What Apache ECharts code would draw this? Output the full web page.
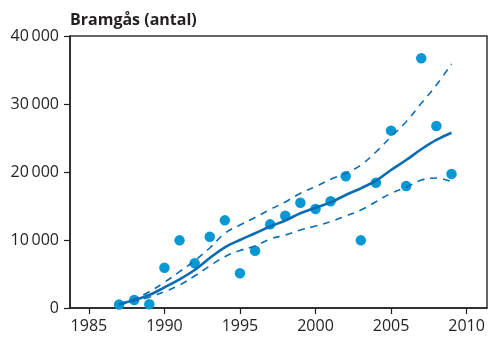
<!DOCTYPE html>
<html>
<head>
<meta charset="utf-8">
<script src="https://cdn.jsdelivr.net/npm/echarts@6/dist/echarts.min.js"></script>
<style>
html,body{margin:0;padding:0;background:#fff;}
#c{width:488px;height:338px;}
</style>
</head>
<body>
<div id="c"></div>
<script>
const years = [1987,1988,1989,1990,1991,1992,1993,1994,1995,1996,1997,1998,1999,2000,2001,2002,2003,2004,2005,2006,2007,2008,2009];
const observed = [500,1180,540,5930,9950,6570,10490,12890,5100,8430,12300,13570,15490,14560,15690,19370,9950,18430,26080,17940,36720,26760,19700];
const trend = [590,1180,1910,3040,4220,5590,7350,8930,10000,10990,11990,12870,13930,14750,15540,16620,17600,18720,20290,21760,23340,24710,25780];
const upper = [590,1320,2400,3780,5340,6960,8820,10990,12210,13310,14490,15590,16870,17840,18930,19810,21030,22940,25190,27400,30100,32790,35880];
const lower = [440,1030,1570,2400,3380,4710,6180,7540,8460,9120,10150,10740,11470,12060,12690,13530,14410,15630,16870,17750,18820,19120,18570];
const xTicks = [1985,1990,1995,2000,2005,2010];
const yTicks = [0,10000,20000,30000,40000];
const titleText = 'Bramgås (antal)';

const pairs = (vals) => years.map((y,i)=>[y, vals[i]]);
const fmtY = v => v === 0 ? '0' : String(v/1000) + '\u2009000';

const chart = echarts.init(document.getElementById('c'), null, {renderer:'canvas'});
const font = '"Open Sans", "Noto Sans", sans-serif';
const lineColor = '#0b6cb6';
chart.setOption({
  animation: false,
  backgroundColor: '#fff',
  title: {
    text: titleText, left: 65, top: 7,
    textStyle: {fontFamily: font, fontWeight: 'bold', fontSize: 16, color: '#231f20'}
  },
  grid: {left: 70, right: 1, top: 36, bottom: 30, show: true, borderColor: '#333', borderWidth: 1.5, backgroundColor: 'transparent'},
  xAxis: {
    type: 'value', min: 1983.75, max: 2011.35,
    axisLine: {show: true, onZero: false, lineStyle: {color: '#231f20', width: 1.5}},
    axisTick: {show: true, length: 6, customValues: xTicks, lineStyle: {color: '#231f20', width: 1.2}},
    axisLabel: {customValues: xTicks, margin: 10, fontFamily: font, fontSize: 16, color: '#231f20', formatter: v => String(v)},
    splitLine: {show: false}
  },
  yAxis: {
    type: 'value', min: 0, max: 40000, interval: 10000,
    axisLine: {show: true, lineStyle: {color: '#231f20', width: 1.5}},
    axisTick: {show: true, length: 6, lineStyle: {color: '#231f20', width: 1.2}},
    axisLabel: {margin: 11, fontFamily: font, fontSize: 16, color: '#231f20', formatter: fmtY},
    splitLine: {show: false}
  },
  series: [
    {type: 'scatter', data: pairs(observed), symbol: 'circle', symbolSize: 10.5,
     itemStyle: {color: '#0a98d4', opacity: 1}, z: 2},
    {type: 'line', data: pairs(upper), smooth: 0.4, symbol: 'none', z: 3,
     lineStyle: {color: lineColor, width: 1.6, type: [7, 6]}},
    {type: 'line', data: pairs(lower), smooth: 0.4, symbol: 'none', z: 3,
     lineStyle: {color: lineColor, width: 1.6, type: [7, 6]}},
    {type: 'line', data: pairs(trend), smooth: 0.4, symbol: 'none', z: 4,
     lineStyle: {color: lineColor, width: 2.6}}
  ]
});
</script>
</body>
</html>
